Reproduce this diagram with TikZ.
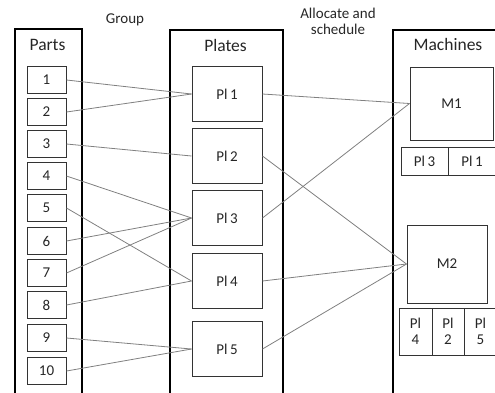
\documentclass[tikz,border=0pt]{standalone}
\usepackage{fontspec}
\setmainfont{Carlito}
\begin{document}
\begin{tikzpicture}[x=1pt,y=-1pt,
  bigbox/.style={draw=black, line width=1.5pt, rectangle, inner sep=0pt, anchor=north west},
  smallbox/.style={draw=black!80, line width=1pt, rectangle, inner sep=0pt, font=\fontsize{15}{17}\selectfont, text=black!85},
  head/.style={font=\fontsize{17.5}{20}\selectfont, text=black!85, inner sep=0pt},
  lbl/.style={font=\fontsize{15}{18}\selectfont, text=black!85, inner sep=0pt, align=center},
  link/.style={draw=black!50, line width=0.8pt}]
\useasboundingbox (0,0) rectangle (495,392);
\clip (0,0) rectangle (495,392);
% column boxes
\node[bigbox, minimum width=67pt, minimum height=400pt] (parts) at (14,28) {};
\node[bigbox, minimum width=113pt, minimum height=400pt] (plates) at (169,29) {};
\node[bigbox, minimum width=140pt, minimum height=400pt] (machines) at (392,29) {};
% titles
\node[head] (tparts) at (47.5,45) {Parts};
\node[head] (tplates) at (225.5,45) {Plates};
\node[head] (tmach) at (448,44) {Machines};
\node[lbl] (tgroup) at (125,20) {Group};
\node[lbl] (talloc) at (338,21) {Allocate and\\[-2pt]schedule};
% parts
\foreach \i/\y in {1/80,2/112,3/144,4/176,5/208,6/241,7/273,8/305,9/338,10/371}
  \node[smallbox, minimum width=39pt, minimum height=27pt] (p\i) at (46.5,\y) {\i};
% plates
\foreach \i/\y in {1/94,2/156,3/218,4/281,5/349}
  \node[smallbox, minimum width=70pt, minimum height=55pt] (pl\i) at (227,\y) {Pl\,\i};
% machines
\node[smallbox, minimum width=83pt, minimum height=73pt] (m1) at (451.5,103.5) {M1};
\node[smallbox, minimum width=80pt, minimum height=78pt] (m2) at (447,264) {M2};
% schedules
\node[smallbox, minimum width=47pt, minimum height=28pt] (s13) at (424.5,161) {Pl\,3};
\node[smallbox, minimum width=48pt, minimum height=28pt] (s11) at (472,161) {Pl\,1};
\node[smallbox, minimum width=33pt, minimum height=47pt, align=center] (s24) at (415.5,331.5) {Pl\\[-1pt]4};
\node[smallbox, minimum width=32pt, minimum height=47pt, align=center] (s22) at (448,331.5) {Pl\\[-1pt]2};
\node[smallbox, minimum width=33pt, minimum height=47pt, align=center] (s25) at (480.5,331.5) {Pl\\[-1pt]5};
% links parts -> plates
\foreach \a/\b in {1/1,2/1,3/2,4/3,5/4,6/3,7/3,8/4,9/5,10/5}
  \draw[link] (p\a.east) -- (pl\b.west);
% links plates -> machines
\draw[link] (pl1.east) -- (m1.west);
\draw[link] (pl3.east) -- (m1.west);
\draw[link] (pl2.east) -- (m2.west);
\draw[link] (pl4.east) -- (m2.west);
\draw[link] (pl5.east) -- (m2.west);
\end{tikzpicture}
\end{document}
